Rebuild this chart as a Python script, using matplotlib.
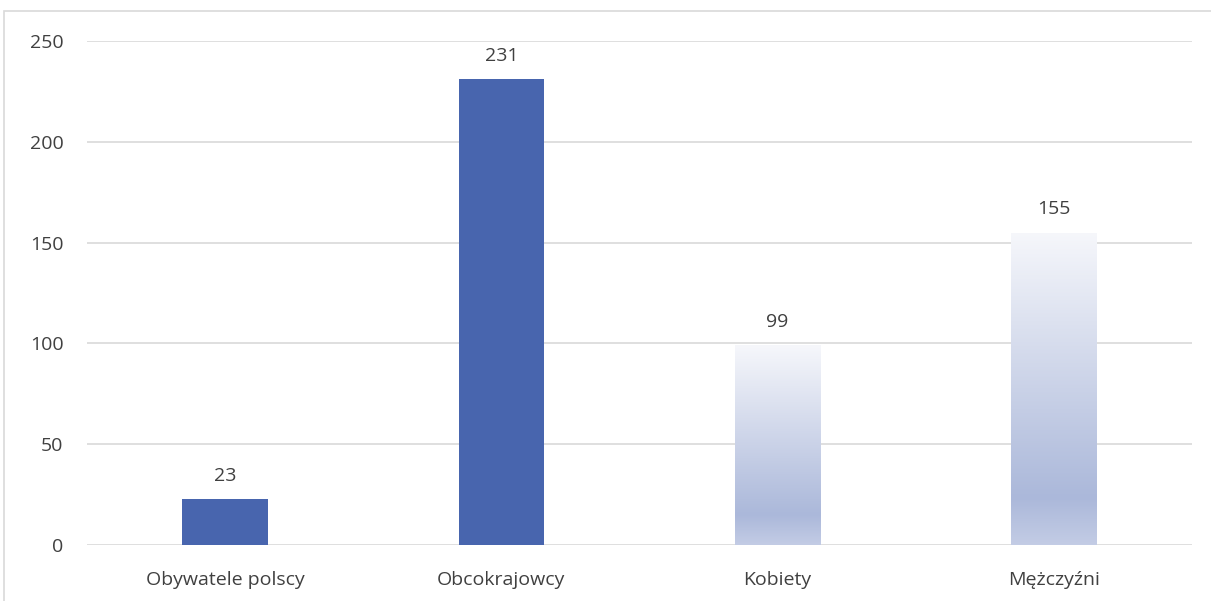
import numpy as np
import matplotlib.pyplot as plt
from matplotlib.colors import LinearSegmentedColormap
from matplotlib.patches import Rectangle

# data
categories = ["Obywatele polscy", "Obcokrajowcy", "Kobiety", "Mężczyźni"]
values = [23, 231, 99, 155]
gradient_bar = [False, False, True, True]

solid_color = "#4865AE"
grad_cmap = LinearSegmentedColormap.from_list(
    "grad", [(0.0, "#C3CCE5"), (0.15, "#ABB8DA"), (1.0, "#F6F7FB")])

plt.rcParams['font.family'] = ['Open Sans', 'DejaVu Sans']

fig = plt.figure(figsize=(12.11, 6.01), dpi=100)
ax = fig.add_axes([0.0718, 0.0932, 0.9125, 0.8386])

# outer chart border (partly cropped in the original)
fig.patches.append(Rectangle((4 / 1211, -0.1), 1.2, 1 - 11 / 601 + 0.1,
                             transform=fig.transFigure, fill=False,
                             edgecolor="#D9D9D9", linewidth=1.2))

x = np.arange(len(categories))
width = 0.31
bars = ax.bar(x, values, width=width, color=solid_color, zorder=2)

for b, g in zip(bars, gradient_bar):
    if g:
        b.set_facecolor("none")
        x0, h = b.get_x(), b.get_height()
        grad = np.linspace(0, 1, 256).reshape(-1, 1)
        im = ax.imshow(grad, cmap=grad_cmap, aspect="auto", origin="lower",
                       extent=[x0, x0 + width, 0, h], zorder=2)
        im.set_clip_path(b)

for xi, v in zip(x, values):
    ax.text(xi, v + 7, str(v), ha="center", va="bottom", fontsize=14, color="#404040")

ax.set_xlim(-0.5, len(categories) - 0.5)
ax.set_ylim(0, 250)
ax.set_yticks(range(0, 251, 50))
ax.set_xticks(x)
ax.set_xticklabels(categories)
ax.tick_params(axis="both", length=0, labelsize=14, labelcolor="#404040")
ax.tick_params(axis="y", pad=17)
ax.tick_params(axis="x", pad=19)
ax.grid(axis="y", color="#D9D9D9", linewidth=1.2, zorder=0)
ax.set_axisbelow(True)
for s in ax.spines.values():
    s.set_visible(False)

fig.savefig("out.png", dpi=100)
